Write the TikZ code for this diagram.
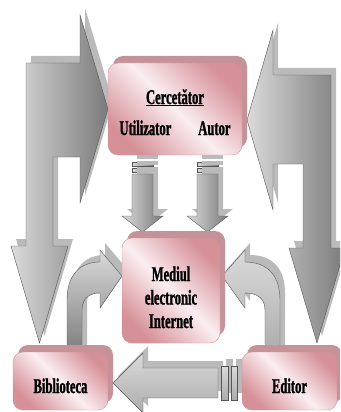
\documentclass[tikz,border=0pt]{standalone}
\usepackage{fontspec}
\newfontfamily\boxfont[FakeStretch=0.6,FakeBold=1.2]{Liberation Serif}
\usetikzlibrary{shadows}
\definecolor{boxlight}{RGB}{250,238,240}
\definecolor{boxdark}{RGB}{214,144,152}
\definecolor{boxline}{RGB}{205,150,158}
\definecolor{boxshade}{RGB}{196,146,152}
\definecolor{arrowlight}{RGB}{218,218,218}
\definecolor{arrowmid}{RGB}{172,172,172}
\definecolor{arrowdark}{RGB}{122,122,122}
\definecolor{arrowline}{RGB}{85,85,85}
\definecolor{arrowshade}{RGB}{186,186,186}

\begin{document}
\begin{tikzpicture}[x=1pt,y=-1pt,
  box/.style={rounded corners=10pt,draw=boxline,line width=0.4pt,
    top color=boxdark,bottom color=boxdark,middle color=boxlight,shading angle=-45,
    drop shadow={shadow xshift=5pt,shadow yshift=7pt,opacity=1,fill=boxshade},
    font=\boxfont\bfseries\fontsize{21}{23.5}\selectfont,align=center,inner sep=0pt},
  blockarrow/.style={draw=arrowline,line width=0.4pt,left color=arrowlight,right color=arrowdark,
    drop shadow={shadow xshift=5pt,shadow yshift=7pt,opacity=1,fill=arrowshade}},
  bendarrow/.style={blockarrow,top color=arrowlight,bottom color=arrowdark}]
\useasboundingbox (0,0) rectangle (340,412);
\clip (0,0) rectangle (340,412);
\path[blockarrow] (26,63) -- (80,63) -- (80,15) -- (108,109) -- (80,203) -- (80,157) -- (53,157)
  -- (53,246) -- (68,246) -- (39.5,343) -- (11,246) -- (26,246) -- cycle;
\path[blockarrow] (331,75) -- (273,75) -- (273,30) -- (247,120) -- (273,210) -- (273,164) -- (303,164)
  -- (303,248) -- (289,248) -- (317,343) -- (345,248) -- (331,248) -- cycle;
\path[bendarrow] (67,356) -- (67,300) .. controls (67,275) and (80,262) .. (100,262) -- (100,250)
  -- (122,276) -- (100,308) -- (100,293) .. controls (90,293) and (82,298) .. (82,310) -- (82,356) -- cycle;
\path[bendarrow,bottom color=arrowmid] (280,356) -- (280,300) .. controls (280,275) and (267,262) .. (245,262) -- (245,250)
  -- (222,276) -- (245,308) -- (245,293) .. controls (257,293) and (265,298) .. (265,310) -- (265,356) -- cycle;
\path[bendarrow,bottom color=arrowmid] (218,368) -- (143,368) -- (143,353) -- (113,383) -- (143,413) -- (143,398) -- (218,398) -- cycle;
\path[bendarrow,bottom color=arrowmid] (221,366) rectangle (228,400);
\path[bendarrow,bottom color=arrowmid] (231,366) rectangle (237,400);
\path[blockarrow] (132,162) rectangle (153,166);
\path[blockarrow] (132,168) rectangle (153,172);
\path[blockarrow] (132,174) -- (153,174) -- (153,216) -- (163,216) -- (142.5,232) -- (122,216) -- (132,216) -- cycle;
\path[blockarrow] (197,162) rectangle (218,166);
\path[blockarrow] (197,168) rectangle (218,172);
\path[blockarrow] (197,174) -- (218,174) -- (218,216) -- (228,216) -- (207.5,232) -- (187,216) -- (197,216) -- cycle;
\node[box,minimum width=134pt,minimum height=92pt,text height=52pt,text depth=0pt] (cercetator) at (175,109)
  {\underline{Cercetător}\\[7.5pt]Utilizator\hspace{27pt}Autor};
\node[box,minimum width=98pt,minimum height=105pt,text height=75pt,text depth=0pt] (mediul) at (171,290.5)
  {Mediul\\electronic\\Internet};
\node[box,minimum width=95pt,minimum height=58pt,text height=24pt,text depth=0pt] (biblioteca) at (60.5,381) {Biblioteca};
\node[box,minimum width=95pt,minimum height=58pt,text height=24pt,text depth=0pt] (editor) at (289.5,381) {Editor};
\end{tikzpicture}
\end{document}
